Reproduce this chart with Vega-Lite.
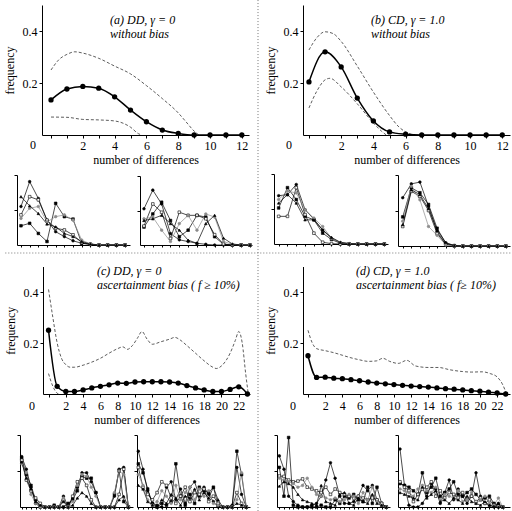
{
"$schema":"https://vega.github.io/schema/vega-lite/v6.json",
"width":512,"height":511,"autosize":{"type":"none"},"padding":0,"background":"white",
"config":{"font":"Liberation Serif","view":{"stroke":null},
"axis":{"grid":false,"domainColor":"#000","tickColor":"#000","labelColor":"#000","titleColor":"#000","labelFontSize":12,"titleFontSize":12,"titleFontWeight":"normal","tickSize":3,"labelPadding":2,"labelOverlap":false,"labelFlush":false,"minExtent":0,"domainWidth":1,"tickWidth":1},
"text":{"fontSize":12,"color":"#000"}},
"datasets":{
"a":[{"s":"m","x":0,"y":0.135},{"s":"m","x":1,"y":0.177},{"s":"m","x":2,"y":0.187},{"s":"m","x":3,"y":0.18},{"s":"m","x":4,"y":0.147},{"s":"m","x":5,"y":0.096},{"s":"m","x":6,"y":0.051},{"s":"m","x":7,"y":0.019},{"s":"m","x":8,"y":0.006},{"s":"m","x":9,"y":0},{"s":"m","x":10,"y":0},{"s":"m","x":11,"y":0},{"s":"m","x":12,"y":0},
{"s":"u","x":0,"y":0.25},{"s":"u","x":0.5,"y":0.29},{"s":"u","x":1,"y":0.31},{"s":"u","x":1.5,"y":0.32},{"s":"u","x":2,"y":0.315},{"s":"u","x":3,"y":0.295},{"s":"u","x":4,"y":0.265},{"s":"u","x":5,"y":0.235},{"s":"u","x":6,"y":0.19},{"s":"u","x":7,"y":0.14},{"s":"u","x":8,"y":0.085},{"s":"u","x":8.5,"y":0.05},{"s":"u","x":9,"y":0.015},{"s":"u","x":9.3,"y":0},
{"s":"l","x":0,"y":0.069},{"s":"l","x":1,"y":0.068},{"s":"l","x":2,"y":0.06},{"s":"l","x":3,"y":0.058},{"s":"l","x":4,"y":0.054},{"s":"l","x":5,"y":0.03},{"s":"l","x":5.5,"y":0.005},{"s":"l","x":5.7,"y":0}],
"b":[{"s":"m","x":0,"y":0.204},{"s":"m","x":1,"y":0.32},{"s":"m","x":2,"y":0.262},{"s":"m","x":3,"y":0.142},{"s":"m","x":4,"y":0.054},{"s":"m","x":5,"y":0.012},{"s":"m","x":6,"y":0.003},{"s":"m","x":7,"y":0},{"s":"m","x":8,"y":0},{"s":"m","x":9,"y":0},{"s":"m","x":10,"y":0},{"s":"m","x":11,"y":0},{"s":"m","x":12,"y":0},
{"s":"u","x":0,"y":0.327},{"s":"u","x":0.5,"y":0.375},{"s":"u","x":1,"y":0.397},{"s":"u","x":1.5,"y":0.39},{"s":"u","x":2,"y":0.36},{"s":"u","x":3,"y":0.265},{"s":"u","x":4,"y":0.165},{"s":"u","x":5,"y":0.075},{"s":"u","x":5.6,"y":0.03},{"s":"u","x":6,"y":0.012},{"s":"u","x":6.5,"y":0},
{"s":"l","x":0,"y":0.104},{"s":"l","x":0.5,"y":0.17},{"s":"l","x":1,"y":0.212},{"s":"l","x":1.3,"y":0.218},{"s":"l","x":2,"y":0.185},{"s":"l","x":3,"y":0.12},{"s":"l","x":4,"y":0.046},{"s":"l","x":4.5,"y":0.015},{"s":"l","x":4.8,"y":0}],
"c":[{"s":"m","x":0,"y":0.25},{"s":"m","x":1,"y":0.03},{"s":"m","x":2,"y":0.01},{"s":"m","x":3,"y":0.01},{"s":"m","x":4,"y":0.016},{"s":"m","x":5,"y":0.024},{"s":"m","x":6,"y":0.03},{"s":"m","x":7,"y":0.036},{"s":"m","x":8,"y":0.043},{"s":"m","x":9,"y":0.042},{"s":"m","x":10,"y":0.047},{"s":"m","x":11,"y":0.048},{"s":"m","x":12,"y":0.048},{"s":"m","x":13,"y":0.048},{"s":"m","x":14,"y":0.047},{"s":"m","x":15,"y":0.043},{"s":"m","x":16,"y":0.033},{"s":"m","x":17,"y":0.024},{"s":"m","x":18,"y":0.016},{"s":"m","x":19,"y":0.01},{"s":"m","x":20,"y":0.01},{"s":"m","x":21,"y":0.018},{"s":"m","x":22,"y":0.028},{"s":"m","x":23,"y":0},
{"s":"u","x":0,"y":0.41},{"s":"u","x":0.5,"y":0.3},{"s":"u","x":1,"y":0.2},{"s":"u","x":1.5,"y":0.14},{"s":"u","x":2,"y":0.115},{"s":"u","x":2.5,"y":0.105},{"s":"u","x":3,"y":0.105},{"s":"u","x":4,"y":0.113},{"s":"u","x":5,"y":0.125},{"s":"u","x":6,"y":0.14},{"s":"u","x":7,"y":0.16},{"s":"u","x":8,"y":0.178},{"s":"u","x":8.6,"y":0.185},{"s":"u","x":9.1,"y":0.175},{"s":"u","x":9.7,"y":0.19},{"s":"u","x":10.3,"y":0.22},{"s":"u","x":10.8,"y":0.245},{"s":"u","x":11.4,"y":0.215},{"s":"u","x":12,"y":0.195},{"s":"u","x":13,"y":0.205},{"s":"u","x":14,"y":0.215},{"s":"u","x":14.6,"y":0.222},{"s":"u","x":15.3,"y":0.21},{"s":"u","x":16,"y":0.19},{"s":"u","x":17,"y":0.16},{"s":"u","x":18,"y":0.13},{"s":"u","x":19,"y":0.105},{"s":"u","x":19.4,"y":0.1},{"s":"u","x":20,"y":0.11},{"s":"u","x":21,"y":0.16},{"s":"u","x":21.6,"y":0.21},{"s":"u","x":22,"y":0.245},{"s":"u","x":22.4,"y":0.2},{"s":"u","x":22.8,"y":0.08},{"s":"u","x":23.1,"y":0},
{"s":"l","x":0,"y":0.08},{"s":"l","x":0.5,"y":0.03},{"s":"l","x":1,"y":0.003},{"s":"l","x":1.2,"y":0}],
"d":[{"s":"m","x":0,"y":0.15},{"s":"m","x":1,"y":0.065},{"s":"m","x":2,"y":0.066},{"s":"m","x":3,"y":0.062},{"s":"m","x":4,"y":0.06},{"s":"m","x":5,"y":0.056},{"s":"m","x":6,"y":0.052},{"s":"m","x":7,"y":0.047},{"s":"m","x":8,"y":0.043},{"s":"m","x":9,"y":0.04},{"s":"m","x":10,"y":0.037},{"s":"m","x":11,"y":0.034},{"s":"m","x":12,"y":0.031},{"s":"m","x":13,"y":0.029},{"s":"m","x":14,"y":0.027},{"s":"m","x":15,"y":0.024},{"s":"m","x":16,"y":0.021},{"s":"m","x":17,"y":0.019},{"s":"m","x":18,"y":0.016},{"s":"m","x":19,"y":0.013},{"s":"m","x":20,"y":0.011},{"s":"m","x":21,"y":0.007},{"s":"m","x":22,"y":0.004},{"s":"m","x":23,"y":0},
{"s":"u","x":0,"y":0.25},{"s":"u","x":0.5,"y":0.2},{"s":"u","x":1,"y":0.178},{"s":"u","x":2,"y":0.17},{"s":"u","x":3,"y":0.162},{"s":"u","x":4,"y":0.152},{"s":"u","x":5,"y":0.142},{"s":"u","x":6,"y":0.134},{"s":"u","x":7,"y":0.128},{"s":"u","x":8,"y":0.13},{"s":"u","x":8.7,"y":0.14},{"s":"u","x":9.5,"y":0.128},{"s":"u","x":10.5,"y":0.12},{"s":"u","x":11.5,"y":0.132},{"s":"u","x":12.5,"y":0.11},{"s":"u","x":14,"y":0.104},{"s":"u","x":15.2,"y":0.104},{"s":"u","x":16.5,"y":0.095},{"s":"u","x":18,"y":0.088},{"s":"u","x":19,"y":0.086},{"s":"u","x":20.3,"y":0.087},{"s":"u","x":21.2,"y":0.08},{"s":"u","x":22,"y":0.067},{"s":"u","x":22.6,"y":0.04},{"s":"u","x":23.1,"y":0}],
"a1":[{"s":1,"x":0,"y":1.1},{"s":1,"x":1,"y":1.81},{"s":1,"x":2,"y":1.33},{"s":1,"x":3,"y":0.71},{"s":1,"x":4,"y":0.38},{"s":1,"x":5,"y":0.24},{"s":1,"x":6,"y":0.12},{"s":1,"x":7,"y":0.05},{"s":1,"x":8,"y":0.02},{"s":1,"x":9,"y":0},{"s":1,"x":10,"y":0},{"s":1,"x":11,"y":0},{"s":1,"x":12,"y":0},
{"s":2,"x":0,"y":0.55},{"s":2,"x":1,"y":0.62},{"s":2,"x":2,"y":0.33},{"s":2,"x":3,"y":0.1},{"s":2,"x":4,"y":1.19},{"s":2,"x":5,"y":0.81},{"s":2,"x":6,"y":0.74},{"s":2,"x":7,"y":0.05},{"s":2,"x":8,"y":0.02},{"s":2,"x":9,"y":0},{"s":2,"x":10,"y":0},{"s":2,"x":11,"y":0},{"s":2,"x":12,"y":0},
{"s":3,"x":0,"y":0.86},{"s":3,"x":1,"y":1.38},{"s":3,"x":2,"y":1.29},{"s":3,"x":3,"y":0.71},{"s":3,"x":4,"y":0.48},{"s":3,"x":5,"y":0.43},{"s":3,"x":6,"y":0.29},{"s":3,"x":7,"y":0.07},{"s":3,"x":8,"y":0.02},{"s":3,"x":9,"y":0},{"s":3,"x":10,"y":0},{"s":3,"x":11,"y":0},{"s":3,"x":12,"y":0},
{"s":4,"x":0,"y":0.76},{"s":4,"x":1,"y":1.05},{"s":4,"x":2,"y":1.1},{"s":4,"x":3,"y":0.66},{"s":4,"x":4,"y":0.81},{"s":4,"x":5,"y":0.86},{"s":4,"x":6,"y":0.71},{"s":4,"x":7,"y":0.14},{"s":4,"x":8,"y":0.03},{"s":4,"x":9,"y":0},{"s":4,"x":10,"y":0},{"s":4,"x":11,"y":0},{"s":4,"x":12,"y":0},
{"s":5,"x":0,"y":1.38},{"s":5,"x":1,"y":1.12},{"s":5,"x":2,"y":0.9},{"s":5,"x":3,"y":0.6},{"s":5,"x":4,"y":0.52},{"s":5,"x":5,"y":0.33},{"s":5,"x":6,"y":0.24},{"s":5,"x":7,"y":0.1},{"s":5,"x":8,"y":0.03},{"s":5,"x":9,"y":0},{"s":5,"x":10,"y":0},{"s":5,"x":11,"y":0},{"s":5,"x":12,"y":0}],
"a2":[{"s":1,"x":0,"y":1.05},{"s":1,"x":1,"y":1.59},{"s":1,"x":2,"y":1.19},{"s":1,"x":3,"y":0.33},{"s":1,"x":4,"y":0.15},{"s":1,"x":5,"y":0.1},{"s":1,"x":6,"y":0.05},{"s":1,"x":7,"y":0.02},{"s":1,"x":8,"y":0},{"s":1,"x":9,"y":0},{"s":1,"x":10,"y":0},{"s":1,"x":11,"y":0},{"s":1,"x":12,"y":0},
{"s":2,"x":0,"y":0.52},{"s":2,"x":1,"y":0.9},{"s":2,"x":2,"y":1.24},{"s":2,"x":3,"y":0.71},{"s":2,"x":4,"y":0.24},{"s":2,"x":5,"y":0.43},{"s":2,"x":6,"y":0.86},{"s":2,"x":7,"y":0.81},{"s":2,"x":8,"y":0.24},{"s":2,"x":9,"y":0.02},{"s":2,"x":10,"y":0},{"s":2,"x":11,"y":0},{"s":2,"x":12,"y":0},
{"s":3,"x":0,"y":0.55},{"s":3,"x":1,"y":1.19},{"s":3,"x":2,"y":0.95},{"s":3,"x":3,"y":0.19},{"s":3,"x":4,"y":0.95},{"s":3,"x":5,"y":0.86},{"s":3,"x":6,"y":0.86},{"s":3,"x":7,"y":0.76},{"s":3,"x":8,"y":0.3},{"s":3,"x":9,"y":0.03},{"s":3,"x":10,"y":0},{"s":3,"x":11,"y":0},{"s":3,"x":12,"y":0},
{"s":4,"x":0,"y":0.76},{"s":4,"x":1,"y":0.81},{"s":4,"x":2,"y":0.43},{"s":4,"x":3,"y":0.1},{"s":4,"x":4,"y":0.62},{"s":4,"x":5,"y":0.86},{"s":4,"x":6,"y":0.43},{"s":4,"x":7,"y":0.9},{"s":4,"x":8,"y":0.81},{"s":4,"x":9,"y":0.1},{"s":4,"x":10,"y":0.02},{"s":4,"x":11,"y":0},{"s":4,"x":12,"y":0},
{"s":5,"x":0,"y":0.71},{"s":5,"x":1,"y":0.76},{"s":5,"x":2,"y":0.86},{"s":5,"x":3,"y":0.62},{"s":5,"x":4,"y":0.43},{"s":5,"x":5,"y":0.14},{"s":5,"x":6,"y":0.05},{"s":5,"x":7,"y":0.62},{"s":5,"x":8,"y":0.86},{"s":5,"x":9,"y":0.2},{"s":5,"x":10,"y":0.03},{"s":5,"x":11,"y":0},{"s":5,"x":12,"y":0}],
"b1":[{"s":1,"x":0,"y":1.38},{"s":1,"x":1,"y":1.41},{"s":1,"x":2,"y":1.7},{"s":1,"x":3,"y":0.98},{"s":1,"x":4,"y":0.71},{"s":1,"x":5,"y":0.4},{"s":1,"x":6,"y":0.16},{"s":1,"x":7,"y":0.04},{"s":1,"x":8,"y":0.01},{"s":1,"x":9,"y":0},{"s":1,"x":10,"y":0},{"s":1,"x":11,"y":0},{"s":1,"x":12,"y":0},
{"s":2,"x":0,"y":1.03},{"s":2,"x":1,"y":1.61},{"s":2,"x":2,"y":1.27},{"s":2,"x":3,"y":0.79},{"s":2,"x":4,"y":0.69},{"s":2,"x":5,"y":0.31},{"s":2,"x":6,"y":0.13},{"s":2,"x":7,"y":0.02},{"s":2,"x":8,"y":0},{"s":2,"x":9,"y":0},{"s":2,"x":10,"y":0},{"s":2,"x":11,"y":0},{"s":2,"x":12,"y":0},
{"s":3,"x":0,"y":0.79},{"s":3,"x":1,"y":0.79},{"s":3,"x":2,"y":1.61},{"s":3,"x":3,"y":0.84},{"s":3,"x":4,"y":0.31},{"s":3,"x":5,"y":0.05},{"s":3,"x":6,"y":0.01},{"s":3,"x":7,"y":0},{"s":3,"x":8,"y":0},{"s":3,"x":9,"y":0},{"s":3,"x":10,"y":0},{"s":3,"x":11,"y":0},{"s":3,"x":12,"y":0},
{"s":4,"x":0,"y":1.27},{"s":4,"x":1,"y":1.51},{"s":4,"x":2,"y":1.46},{"s":4,"x":3,"y":0.98},{"s":4,"x":4,"y":0.74},{"s":4,"x":5,"y":0.5},{"s":4,"x":6,"y":0.16},{"s":4,"x":7,"y":0.04},{"s":4,"x":8,"y":0.01},{"s":4,"x":9,"y":0},{"s":4,"x":10,"y":0},{"s":4,"x":11,"y":0},{"s":4,"x":12,"y":0},
{"s":5,"x":0,"y":1.17},{"s":5,"x":1,"y":1.41},{"s":5,"x":2,"y":1.17},{"s":5,"x":3,"y":0.69},{"s":5,"x":4,"y":0.69},{"s":5,"x":5,"y":0.4},{"s":5,"x":6,"y":0.19},{"s":5,"x":7,"y":0.05},{"s":5,"x":8,"y":0.01},{"s":5,"x":9,"y":0},{"s":5,"x":10,"y":0},{"s":5,"x":11,"y":0},{"s":5,"x":12,"y":0}],
"b2":[{"s":1,"x":0,"y":1.36},{"s":1,"x":1,"y":1.75},{"s":1,"x":2,"y":1.8},{"s":1,"x":3,"y":1.12},{"s":1,"x":4,"y":0.4},{"s":1,"x":5,"y":0.05},{"s":1,"x":6,"y":0.01},{"s":1,"x":7,"y":0},{"s":1,"x":8,"y":0},{"s":1,"x":9,"y":0},{"s":1,"x":10,"y":0},{"s":1,"x":11,"y":0},{"s":1,"x":12,"y":0},
{"s":2,"x":0,"y":0.82},{"s":2,"x":1,"y":1.64},{"s":2,"x":2,"y":1.5},{"s":2,"x":3,"y":1.17},{"s":2,"x":4,"y":0.5},{"s":2,"x":5,"y":0.08},{"s":2,"x":6,"y":0.01},{"s":2,"x":7,"y":0},{"s":2,"x":8,"y":0},{"s":2,"x":9,"y":0},{"s":2,"x":10,"y":0},{"s":2,"x":11,"y":0},{"s":2,"x":12,"y":0},
{"s":3,"x":0,"y":0.55},{"s":3,"x":1,"y":1.54},{"s":3,"x":2,"y":1.4},{"s":3,"x":3,"y":1.0},{"s":3,"x":4,"y":0.35},{"s":3,"x":5,"y":0.05},{"s":3,"x":6,"y":0},{"s":3,"x":7,"y":0},{"s":3,"x":8,"y":0},{"s":3,"x":9,"y":0},{"s":3,"x":10,"y":0},{"s":3,"x":11,"y":0},{"s":3,"x":12,"y":0},
{"s":4,"x":0,"y":0.7},{"s":4,"x":1,"y":1.68},{"s":4,"x":2,"y":1.3},{"s":4,"x":3,"y":0.55},{"s":4,"x":4,"y":0.3},{"s":4,"x":5,"y":0.03},{"s":4,"x":6,"y":0},{"s":4,"x":7,"y":0},{"s":4,"x":8,"y":0},{"s":4,"x":9,"y":0},{"s":4,"x":10,"y":0},{"s":4,"x":11,"y":0},{"s":4,"x":12,"y":0},
{"s":5,"x":0,"y":0.6},{"s":5,"x":1,"y":1.58},{"s":5,"x":2,"y":1.45},{"s":5,"x":3,"y":1.05},{"s":5,"x":4,"y":0.45},{"s":5,"x":5,"y":0.1},{"s":5,"x":6,"y":0.01},{"s":5,"x":7,"y":0},{"s":5,"x":8,"y":0},{"s":5,"x":9,"y":0},{"s":5,"x":10,"y":0},{"s":5,"x":11,"y":0},{"s":5,"x":12,"y":0}],
"c1":[{"s":1,"x":0,"y":1.4},{"s":1,"x":1,"y":1.05},{"s":1,"x":2,"y":0.55},{"s":1,"x":3,"y":0.1},{"s":1,"x":4,"y":0},{"s":1,"x":5,"y":0},{"s":1,"x":6,"y":0},{"s":1,"x":7,"y":0},{"s":1,"x":8,"y":0},{"s":1,"x":9,"y":0.3},{"s":1,"x":10,"y":0},{"s":1,"x":11,"y":0.25},{"s":1,"x":12,"y":0.55},{"s":1,"x":13,"y":0.95},{"s":1,"x":14,"y":0.95},{"s":1,"x":15,"y":0.7},{"s":1,"x":16,"y":0.4},{"s":1,"x":17,"y":0},{"s":1,"x":18,"y":0},{"s":1,"x":19,"y":0},{"s":1,"x":20,"y":0.3},{"s":1,"x":21,"y":1.05},{"s":1,"x":22,"y":1.1},{"s":1,"x":23,"y":0},
{"s":2,"x":0,"y":1.35},{"s":2,"x":1,"y":0.9},{"s":2,"x":2,"y":0.6},{"s":2,"x":3,"y":0.2},{"s":2,"x":4,"y":0},{"s":2,"x":5,"y":0},{"s":2,"x":6,"y":0},{"s":2,"x":7,"y":0.05},{"s":2,"x":8,"y":0},{"s":2,"x":9,"y":0},{"s":2,"x":10,"y":0.1},{"s":2,"x":11,"y":0.2},{"s":2,"x":12,"y":0.45},{"s":2,"x":13,"y":0.85},{"s":2,"x":14,"y":0.8},{"s":2,"x":15,"y":0.8},{"s":2,"x":16,"y":0.4},{"s":2,"x":17,"y":0},{"s":2,"x":18,"y":0},{"s":2,"x":19,"y":0},{"s":2,"x":20,"y":0.35},{"s":2,"x":21,"y":1.0},{"s":2,"x":22,"y":0.15},{"s":2,"x":23,"y":0},
{"s":3,"x":0,"y":1.3},{"s":3,"x":1,"y":0.75},{"s":3,"x":2,"y":0.45},{"s":3,"x":3,"y":0.25},{"s":3,"x":4,"y":0.1},{"s":3,"x":5,"y":0},{"s":3,"x":6,"y":0},{"s":3,"x":7,"y":0},{"s":3,"x":8,"y":0},{"s":3,"x":9,"y":0.2},{"s":3,"x":10,"y":0},{"s":3,"x":11,"y":0.3},{"s":3,"x":12,"y":0.7},{"s":3,"x":13,"y":0.8},{"s":3,"x":14,"y":0.6},{"s":3,"x":15,"y":0.2},{"s":3,"x":16,"y":0},{"s":3,"x":17,"y":0},{"s":3,"x":18,"y":0},{"s":3,"x":19,"y":0},{"s":3,"x":20,"y":0},{"s":3,"x":21,"y":0.35},{"s":3,"x":22,"y":1.05},{"s":3,"x":23,"y":0},
{"s":4,"x":0,"y":1.2},{"s":4,"x":1,"y":0.95},{"s":4,"x":2,"y":0.35},{"s":4,"x":3,"y":0.1},{"s":4,"x":4,"y":0},{"s":4,"x":5,"y":0},{"s":4,"x":6,"y":0},{"s":4,"x":7,"y":0},{"s":4,"x":8,"y":0},{"s":4,"x":9,"y":0.25},{"s":4,"x":10,"y":0},{"s":4,"x":11,"y":0.15},{"s":4,"x":12,"y":0.6},{"s":4,"x":13,"y":0.9},{"s":4,"x":14,"y":0.85},{"s":4,"x":15,"y":0.55},{"s":4,"x":16,"y":0.3},{"s":4,"x":17,"y":0},{"s":4,"x":18,"y":0},{"s":4,"x":19,"y":0},{"s":4,"x":20,"y":0.4},{"s":4,"x":21,"y":1.0},{"s":4,"x":22,"y":0.9},{"s":4,"x":23,"y":0},
{"s":5,"x":0,"y":1.25},{"s":5,"x":1,"y":0.8},{"s":5,"x":2,"y":0.5},{"s":5,"x":3,"y":0.15},{"s":5,"x":4,"y":0.05},{"s":5,"x":5,"y":0},{"s":5,"x":6,"y":0},{"s":5,"x":7,"y":0},{"s":5,"x":8,"y":0},{"s":5,"x":9,"y":0.15},{"s":5,"x":10,"y":0},{"s":5,"x":11,"y":0.05},{"s":5,"x":12,"y":0.25},{"s":5,"x":13,"y":0.4},{"s":5,"x":14,"y":0.3},{"s":5,"x":15,"y":0.1},{"s":5,"x":16,"y":0},{"s":5,"x":17,"y":0},{"s":5,"x":18,"y":0},{"s":5,"x":19,"y":0},{"s":5,"x":20,"y":0},{"s":5,"x":21,"y":0.2},{"s":5,"x":22,"y":0.3},{"s":5,"x":23,"y":0}],
"c2":[{"s":1,"x":0,"y":1.55},{"s":1,"x":1,"y":1.05},{"s":1,"x":2,"y":0.45},{"s":1,"x":3,"y":0.1},{"s":1,"x":4,"y":0.05},{"s":1,"x":5,"y":0},{"s":1,"x":6,"y":0.55},{"s":1,"x":7,"y":0.7},{"s":1,"x":8,"y":0.2},{"s":1,"x":9,"y":0.5},{"s":1,"x":10,"y":0.1},{"s":1,"x":11,"y":0.55},{"s":1,"x":12,"y":0.7},{"s":1,"x":13,"y":0.3},{"s":1,"x":14,"y":0.55},{"s":1,"x":15,"y":0.35},{"s":1,"x":16,"y":0.15},{"s":1,"x":17,"y":0},{"s":1,"x":18,"y":0},{"s":1,"x":19,"y":0},{"s":1,"x":20,"y":0.05},{"s":1,"x":21,"y":1.1},{"s":1,"x":22,"y":0.35},{"s":1,"x":23,"y":0},
{"s":2,"x":0,"y":1.2},{"s":2,"x":1,"y":0.95},{"s":2,"x":2,"y":0.5},{"s":2,"x":3,"y":0.1},{"s":2,"x":4,"y":0},{"s":2,"x":5,"y":0.1},{"s":2,"x":6,"y":0.05},{"s":2,"x":7,"y":0.15},{"s":2,"x":8,"y":1.2},{"s":2,"x":9,"y":0.3},{"s":2,"x":10,"y":0.05},{"s":2,"x":11,"y":0.35},{"s":2,"x":12,"y":0.1},{"s":2,"x":13,"y":0.55},{"s":2,"x":14,"y":0.45},{"s":2,"x":15,"y":0.4},{"s":2,"x":16,"y":0.55},{"s":2,"x":17,"y":0.05},{"s":2,"x":18,"y":0},{"s":2,"x":19,"y":0},{"s":2,"x":20,"y":0},{"s":2,"x":21,"y":1.55},{"s":2,"x":22,"y":0.9},{"s":2,"x":23,"y":0},
{"s":3,"x":0,"y":1.1},{"s":3,"x":1,"y":0.55},{"s":3,"x":2,"y":0.35},{"s":3,"x":3,"y":0.2},{"s":3,"x":4,"y":0.4},{"s":3,"x":5,"y":0.7},{"s":3,"x":6,"y":0.6},{"s":3,"x":7,"y":0.25},{"s":3,"x":8,"y":0.1},{"s":3,"x":9,"y":0.3},{"s":3,"x":10,"y":0.55},{"s":3,"x":11,"y":0.15},{"s":3,"x":12,"y":0.4},{"s":3,"x":13,"y":0.35},{"s":3,"x":14,"y":0.5},{"s":3,"x":15,"y":0.15},{"s":3,"x":16,"y":0.3},{"s":3,"x":17,"y":0.1},{"s":3,"x":18,"y":0},{"s":3,"x":19,"y":0},{"s":3,"x":20,"y":0},{"s":3,"x":21,"y":0.4},{"s":3,"x":22,"y":0.1},{"s":3,"x":23,"y":0},
{"s":4,"x":0,"y":0.9},{"s":4,"x":1,"y":0.6},{"s":4,"x":2,"y":0.2},{"s":4,"x":3,"y":0.05},{"s":4,"x":4,"y":0.15},{"s":4,"x":5,"y":0.45},{"s":4,"x":6,"y":0.3},{"s":4,"x":7,"y":0.1},{"s":4,"x":8,"y":0.6},{"s":4,"x":9,"y":0.2},{"s":4,"x":10,"y":0.4},{"s":4,"x":11,"y":0.55},{"s":4,"x":12,"y":0.2},{"s":4,"x":13,"y":0.5},{"s":4,"x":14,"y":0.3},{"s":4,"x":15,"y":0.45},{"s":4,"x":16,"y":0.1},{"s":4,"x":17,"y":0.05},{"s":4,"x":18,"y":0},{"s":4,"x":19,"y":0},{"s":4,"x":20,"y":0},{"s":4,"x":21,"y":0.2},{"s":4,"x":22,"y":0.95},{"s":4,"x":23,"y":0},
{"s":5,"x":0,"y":0.6},{"s":5,"x":1,"y":0.5},{"s":5,"x":2,"y":0.15},{"s":5,"x":3,"y":0.05},{"s":5,"x":4,"y":0},{"s":5,"x":5,"y":0.2},{"s":5,"x":6,"y":0.1},{"s":5,"x":7,"y":0.35},{"s":5,"x":8,"y":0.25},{"s":5,"x":9,"y":0.05},{"s":5,"x":10,"y":0.3},{"s":5,"x":11,"y":0.25},{"s":5,"x":12,"y":0.5},{"s":5,"x":13,"y":0.2},{"s":5,"x":14,"y":0.4},{"s":5,"x":15,"y":0.25},{"s":5,"x":16,"y":0.55},{"s":5,"x":17,"y":0.2},{"s":5,"x":18,"y":0},{"s":5,"x":19,"y":0},{"s":5,"x":20,"y":0},{"s":5,"x":21,"y":0.1},{"s":5,"x":22,"y":0.05},{"s":5,"x":23,"y":0}],
"d1":[{"s":1,"x":0,"y":1.42},{"s":1,"x":1,"y":1.05},{"s":1,"x":2,"y":0.3},{"s":1,"x":3,"y":0.15},{"s":1,"x":4,"y":0.05},{"s":1,"x":5,"y":0},{"s":1,"x":6,"y":0},{"s":1,"x":7,"y":0.05},{"s":1,"x":8,"y":0.1},{"s":1,"x":9,"y":0.3},{"s":1,"x":10,"y":0.75},{"s":1,"x":11,"y":1.23},{"s":1,"x":12,"y":0.8},{"s":1,"x":13,"y":0.3},{"s":1,"x":14,"y":0.1},{"s":1,"x":15,"y":0.1},{"s":1,"x":16,"y":0.15},{"s":1,"x":17,"y":0.3},{"s":1,"x":18,"y":0.6},{"s":1,"x":19,"y":0.45},{"s":1,"x":20,"y":0.6},{"s":1,"x":21,"y":0.2},{"s":1,"x":22,"y":0.05},{"s":1,"x":23,"y":0},
{"s":2,"x":0,"y":1.1},{"s":2,"x":1,"y":0.3},{"s":2,"x":2,"y":1.93},{"s":2,"x":3,"y":0.05},{"s":2,"x":4,"y":0},{"s":2,"x":5,"y":0},{"s":2,"x":6,"y":0},{"s":2,"x":7,"y":0},{"s":2,"x":8,"y":0},{"s":2,"x":9,"y":0.05},{"s":2,"x":10,"y":0},{"s":2,"x":11,"y":0},{"s":2,"x":12,"y":0.2},{"s":2,"x":13,"y":0.1},{"s":2,"x":14,"y":0.3},{"s":2,"x":15,"y":0.25},{"s":2,"x":16,"y":0.35},{"s":2,"x":17,"y":0.2},{"s":2,"x":18,"y":0.15},{"s":2,"x":19,"y":0.55},{"s":2,"x":20,"y":0.1},{"s":2,"x":21,"y":0.55},{"s":2,"x":22,"y":0.1},{"s":2,"x":23,"y":0},
{"s":3,"x":0,"y":0.86},{"s":3,"x":1,"y":0.85},{"s":3,"x":2,"y":0.75},{"s":3,"x":3,"y":0.7},{"s":3,"x":4,"y":0.72},{"s":3,"x":5,"y":0.78},{"s":3,"x":6,"y":0.55},{"s":3,"x":7,"y":0.5},{"s":3,"x":8,"y":0.45},{"s":3,"x":9,"y":0.4},{"s":3,"x":10,"y":0.55},{"s":3,"x":11,"y":0.35},{"s":3,"x":12,"y":0.5},{"s":3,"x":13,"y":0.4},{"s":3,"x":14,"y":0.35},{"s":3,"x":15,"y":0.3},{"s":3,"x":16,"y":0.25},{"s":3,"x":17,"y":0.3},{"s":3,"x":18,"y":0.25},{"s":3,"x":19,"y":0.2},{"s":3,"x":20,"y":0.25},{"s":3,"x":21,"y":0.2},{"s":3,"x":22,"y":0.1},{"s":3,"x":23,"y":0},
{"s":4,"x":0,"y":0.8},{"s":4,"x":1,"y":0.75},{"s":4,"x":2,"y":0.7},{"s":4,"x":3,"y":0.65},{"s":4,"x":4,"y":0.55},{"s":4,"x":5,"y":0.6},{"s":4,"x":6,"y":0.8},{"s":4,"x":7,"y":0.55},{"s":4,"x":8,"y":0.35},{"s":4,"x":9,"y":0.3},{"s":4,"x":10,"y":0.25},{"s":4,"x":11,"y":0.2},{"s":4,"x":12,"y":0.25},{"s":4,"x":13,"y":0.15},{"s":4,"x":14,"y":0.2},{"s":4,"x":15,"y":0.35},{"s":4,"x":16,"y":0.3},{"s":4,"x":17,"y":0.1},{"s":4,"x":18,"y":0.4},{"s":4,"x":19,"y":0.2},{"s":4,"x":20,"y":0.55},{"s":4,"x":21,"y":0.15},{"s":4,"x":22,"y":0.05},{"s":4,"x":23,"y":0},
{"s":5,"x":0,"y":0.58},{"s":5,"x":1,"y":0.7},{"s":5,"x":2,"y":0.65},{"s":5,"x":3,"y":0.55},{"s":5,"x":4,"y":0.35},{"s":5,"x":5,"y":0.2},{"s":5,"x":6,"y":0.15},{"s":5,"x":7,"y":0.1},{"s":5,"x":8,"y":0.05},{"s":5,"x":9,"y":0.6},{"s":5,"x":10,"y":0.15},{"s":5,"x":11,"y":0.1},{"s":5,"x":12,"y":0.05},{"s":5,"x":13,"y":0.35},{"s":5,"x":14,"y":0.4},{"s":5,"x":15,"y":0.1},{"s":5,"x":16,"y":0.05},{"s":5,"x":17,"y":0.25},{"s":5,"x":18,"y":0.15},{"s":5,"x":19,"y":0.1},{"s":5,"x":20,"y":0.35},{"s":5,"x":21,"y":0.1},{"s":5,"x":22,"y":0.05},{"s":5,"x":23,"y":0}],
"d2":[{"s":1,"x":0,"y":1.61},{"s":1,"x":1,"y":0.6},{"s":1,"x":2,"y":0.05},{"s":1,"x":3,"y":0},{"s":1,"x":4,"y":0},{"s":1,"x":5,"y":0.1},{"s":1,"x":6,"y":0.3},{"s":1,"x":7,"y":0.65},{"s":1,"x":8,"y":0.5},{"s":1,"x":9,"y":0.1},{"s":1,"x":10,"y":0.4},{"s":1,"x":11,"y":0.75},{"s":1,"x":12,"y":0.2},{"s":1,"x":13,"y":0.5},{"s":1,"x":14,"y":0.3},{"s":1,"x":15,"y":0.1},{"s":1,"x":16,"y":0.3},{"s":1,"x":17,"y":0.95},{"s":1,"x":18,"y":0.3},{"s":1,"x":19,"y":0.1},{"s":1,"x":20,"y":0.05},{"s":1,"x":21,"y":0},{"s":1,"x":22,"y":0.1},{"s":1,"x":23,"y":0},
{"s":2,"x":0,"y":0.65},{"s":2,"x":1,"y":0.6},{"s":2,"x":2,"y":0.55},{"s":2,"x":3,"y":0.45},{"s":2,"x":4,"y":0.35},{"s":2,"x":5,"y":0.95},{"s":2,"x":6,"y":0.4},{"s":2,"x":7,"y":0.55},{"s":2,"x":8,"y":0.8},{"s":2,"x":9,"y":0.3},{"s":2,"x":10,"y":0.4},{"s":2,"x":11,"y":0.5},{"s":2,"x":12,"y":0.7},{"s":2,"x":13,"y":0.35},{"s":2,"x":14,"y":0.3},{"s":2,"x":15,"y":0.4},{"s":2,"x":16,"y":0.5},{"s":2,"x":17,"y":0.35},{"s":2,"x":18,"y":0.2},{"s":2,"x":19,"y":0.25},{"s":2,"x":20,"y":0.3},{"s":2,"x":21,"y":0.1},{"s":2,"x":22,"y":0.05},{"s":2,"x":23,"y":0},
{"s":3,"x":0,"y":0.7},{"s":3,"x":1,"y":0.55},{"s":3,"x":2,"y":0.45},{"s":3,"x":3,"y":0.15},{"s":3,"x":4,"y":0.35},{"s":3,"x":5,"y":0.5},{"s":3,"x":6,"y":0.55},{"s":3,"x":7,"y":0.7},{"s":3,"x":8,"y":0.3},{"s":3,"x":9,"y":0.45},{"s":3,"x":10,"y":0.25},{"s":3,"x":11,"y":0.4},{"s":3,"x":12,"y":0.35},{"s":3,"x":13,"y":0.25},{"s":3,"x":14,"y":0.4},{"s":3,"x":15,"y":0.2},{"s":3,"x":16,"y":0.3},{"s":3,"x":17,"y":0.15},{"s":3,"x":18,"y":0.25},{"s":3,"x":19,"y":0.1},{"s":3,"x":20,"y":0.2},{"s":3,"x":21,"y":0.05},{"s":3,"x":22,"y":0.02},{"s":3,"x":23,"y":0},
{"s":4,"x":0,"y":0.5},{"s":4,"x":1,"y":0.45},{"s":4,"x":2,"y":0.4},{"s":4,"x":3,"y":0.3},{"s":4,"x":4,"y":0.5},{"s":4,"x":5,"y":0.6},{"s":4,"x":6,"y":0.45},{"s":4,"x":7,"y":0.4},{"s":4,"x":8,"y":0.55},{"s":4,"x":9,"y":0.2},{"s":4,"x":10,"y":0.35},{"s":4,"x":11,"y":0.3},{"s":4,"x":12,"y":0.25},{"s":4,"x":13,"y":0.45},{"s":4,"x":14,"y":0.15},{"s":4,"x":15,"y":0.2},{"s":4,"x":16,"y":0.4},{"s":4,"x":17,"y":0.1},{"s":4,"x":18,"y":0.2},{"s":4,"x":19,"y":0.3},{"s":4,"x":20,"y":0.1},{"s":4,"x":21,"y":0.05},{"s":4,"x":22,"y":0.25},{"s":4,"x":23,"y":0},
{"s":5,"x":0,"y":0.4},{"s":5,"x":1,"y":0.35},{"s":5,"x":2,"y":0.3},{"s":5,"x":3,"y":0.25},{"s":5,"x":4,"y":0.2},{"s":5,"x":5,"y":0.55},{"s":5,"x":6,"y":0.25},{"s":5,"x":7,"y":0.35},{"s":5,"x":8,"y":0.45},{"s":5,"x":9,"y":0.15},{"s":5,"x":10,"y":0.2},{"s":5,"x":11,"y":0.1},{"s":5,"x":12,"y":0.25},{"s":5,"x":13,"y":0.2},{"s":5,"x":14,"y":0.1},{"s":5,"x":15,"y":0.3},{"s":5,"x":16,"y":0.15},{"s":5,"x":17,"y":0.1},{"s":5,"x":18,"y":0.05},{"s":5,"x":19,"y":0.15},{"s":5,"x":20,"y":0.05},{"s":5,"x":21,"y":0.02},{"s":5,"x":22,"y":0},{"s":5,"x":23,"y":0}]
},
"resolve":{"scale":{"x":"independent","y":"independent"}},
"layer":[
{"layer":[
{"data":{"name":"a"},"transform":[{"filter":"datum.s == 'u'"}],"mark":{"type":"line","strokeDash":[3,2],"strokeWidth":0.8,"color":"#333","interpolate":"monotone"},
"encoding":{"x":{"field":"x","type":"quantitative","scale":{"domain":[-0.566,12.45],"range":[42,249],"nice":false,"zero":false},"axis":{"orient":"bottom","offset":-376,"values":[0,1,2,3,4,5,6,7,8,9,10,11,12],"labelExpr":"datum.value % 2 == 0 && datum.value > 0 ? datum.label : ''","title":"number of differences","titlePadding":3}},
"y":{"field":"y","type":"quantitative","scale":{"domain":[0,0.5],"range":[135,5],"nice":false,"zero":false},"axis":{"orient":"left","offset":-42,"values":[0.2,0.4],"format":".1f","title":"frequency","titleX":-33,"titleBaseline":"middle"}}}},
{"data":{"name":"a"},"transform":[{"filter":"datum.s == 'l'"}],"mark":{"type":"line","strokeDash":[3,2],"strokeWidth":0.8,"color":"#333","interpolate":"monotone"},"encoding":{"x":{"field":"x","type":"quantitative","scale":{"domain":[-0.566,12.45],"range":[42,249],"nice":false,"zero":false}},"y":{"field":"y","type":"quantitative","scale":{"domain":[0,0.5],"range":[135,5],"nice":false,"zero":false}}}},
{"data":{"name":"a"},"transform":[{"filter":"datum.s == 'm'"}],"mark":{"type":"line","strokeWidth":1.5,"color":"#000","interpolate":"monotone"},"encoding":{"x":{"field":"x","type":"quantitative","scale":{"domain":[-0.566,12.45],"range":[42,249],"nice":false,"zero":false}},"y":{"field":"y","type":"quantitative","scale":{"domain":[0,0.5],"range":[135,5],"nice":false,"zero":false}}}},
{"data":{"name":"a"},"transform":[{"filter":"datum.s == 'm'"}],"mark":{"type":"circle","size":28,"color":"#000","opacity":1},"encoding":{"x":{"field":"x","type":"quantitative","scale":{"domain":[-0.566,12.45],"range":[42,249],"nice":false,"zero":false}},"y":{"field":"y","type":"quantitative","scale":{"domain":[0,0.5],"range":[135,5],"nice":false,"zero":false}}}},
{"data":{"values":[{}]},"mark":{"type":"text","text":"(a) DD, γ = 0","align":"left","baseline":"middle","fontStyle":"italic"},"encoding":{"x":{"datum":3.71},"y":{"datum":0.4423}}},
{"data":{"values":[{}]},"mark":{"type":"text","text":"without bias","align":"left","baseline":"middle","fontStyle":"italic"},"encoding":{"x":{"datum":3.71},"y":{"datum":0.3885}}},
{"data":{"values":[{}]},"mark":{"type":"text","text":"0","align":"center","baseline":"middle","dx":-9,"dy":10},"encoding":{"x":{"datum":-0.566},"y":{"datum":0}}}
]},
{"layer":[
{"data":{"name":"b"},"transform":[{"filter":"datum.s == 'u'"}],"mark":{"type":"line","strokeDash":[3,2],"strokeWidth":0.8,"color":"#333","interpolate":"monotone"},
"encoding":{"x":{"field":"x","type":"quantitative","scale":{"domain":[-0.37,12.48],"range":[303,510],"nice":false,"zero":false},"axis":{"orient":"bottom","offset":-376,"values":[0,1,2,3,4,5,6,7,8,9,10,11,12],"labelExpr":"datum.value % 2 == 0 && datum.value > 0 ? datum.label : ''","title":"number of differences","titlePadding":3}},
"y":{"field":"y","type":"quantitative","scale":{"domain":[0,0.5],"range":[135,5],"nice":false,"zero":false},"axis":{"orient":"left","offset":-303,"values":[0.2,0.4],"format":".1f","title":"frequency","titleX":-33,"titleBaseline":"middle"}}}},
{"data":{"name":"b"},"transform":[{"filter":"datum.s == 'l'"}],"mark":{"type":"line","strokeDash":[3,2],"strokeWidth":0.8,"color":"#333","interpolate":"monotone"},"encoding":{"x":{"field":"x","type":"quantitative","scale":{"domain":[-0.37,12.48],"range":[303,510],"nice":false,"zero":false}},"y":{"field":"y","type":"quantitative","scale":{"domain":[0,0.5],"range":[135,5],"nice":false,"zero":false}}}},
{"data":{"name":"b"},"transform":[{"filter":"datum.s == 'm'"}],"mark":{"type":"line","strokeWidth":1.5,"color":"#000","interpolate":"monotone"},"encoding":{"x":{"field":"x","type":"quantitative","scale":{"domain":[-0.37,12.48],"range":[303,510],"nice":false,"zero":false}},"y":{"field":"y","type":"quantitative","scale":{"domain":[0,0.5],"range":[135,5],"nice":false,"zero":false}}}},
{"data":{"name":"b"},"transform":[{"filter":"datum.s == 'm'"}],"mark":{"type":"circle","size":28,"color":"#000","opacity":1},"encoding":{"x":{"field":"x","type":"quantitative","scale":{"domain":[-0.37,12.48],"range":[303,510],"nice":false,"zero":false}},"y":{"field":"y","type":"quantitative","scale":{"domain":[0,0.5],"range":[135,5],"nice":false,"zero":false}}}},
{"data":{"values":[{}]},"mark":{"type":"text","text":"(b) CD, γ = 1.0","align":"left","baseline":"middle","fontStyle":"italic"},"encoding":{"x":{"datum":3.85},"y":{"datum":0.4423}}},
{"data":{"values":[{}]},"mark":{"type":"text","text":"without bias","align":"left","baseline":"middle","fontStyle":"italic"},"encoding":{"x":{"datum":3.85},"y":{"datum":0.3885}}},
{"data":{"values":[{}]},"mark":{"type":"text","text":"0","align":"center","baseline":"middle","dx":-14,"dy":10},"encoding":{"x":{"datum":-0.37},"y":{"datum":0}}},
{"data":{"values":[{}]},"mark":{"type":"rule","strokeDash":[1,2],"color":"#777","strokeWidth":1},"encoding":{"x":{"datum":-3.163},"y":{"datum":0.519},"y2":{"datum":-1.446}}}
]},
{"layer":[
{"data":{"name":"c"},"transform":[{"filter":"datum.s == 'u'"}],"mark":{"type":"line","strokeDash":[3,2],"strokeWidth":0.8,"color":"#333","interpolate":"monotone"},
"encoding":{"x":{"field":"x","type":"quantitative","scale":{"domain":[-0.64,23.3],"range":[43,250],"nice":false,"zero":false},"axis":{"orient":"bottom","offset":-117,"values":[0,1,2,3,4,5,6,7,8,9,10,11,12,13,14,15,16,17,18,19,20,21,22,23],"labelExpr":"datum.value % 2 == 0 && datum.value > 0 ? datum.label : ''","title":"number of differences","titlePadding":3,"labelPadding":3}},
"y":{"field":"y","type":"quantitative","scale":{"domain":[0,0.5],"range":[394,266.5],"nice":false,"zero":false},"axis":{"orient":"left","offset":-43,"values":[0.2,0.4],"format":".1f","title":"frequency","titleX":-33,"titleBaseline":"middle"}}}},
{"data":{"name":"c"},"transform":[{"filter":"datum.s == 'l'"}],"mark":{"type":"line","strokeDash":[3,2],"strokeWidth":0.8,"color":"#333","interpolate":"monotone"},"encoding":{"x":{"field":"x","type":"quantitative","scale":{"domain":[-0.64,23.3],"range":[43,250],"nice":false,"zero":false}},"y":{"field":"y","type":"quantitative","scale":{"domain":[0,0.5],"range":[394,266.5],"nice":false,"zero":false}}}},
{"data":{"name":"c"},"transform":[{"filter":"datum.s == 'm'"}],"mark":{"type":"line","strokeWidth":1.5,"color":"#000","interpolate":"monotone"},"encoding":{"x":{"field":"x","type":"quantitative","scale":{"domain":[-0.64,23.3],"range":[43,250],"nice":false,"zero":false}},"y":{"field":"y","type":"quantitative","scale":{"domain":[0,0.5],"range":[394,266.5],"nice":false,"zero":false}}}},
{"data":{"name":"c"},"transform":[{"filter":"datum.s == 'm'"}],"mark":{"type":"circle","size":28,"color":"#000","opacity":1},"encoding":{"x":{"field":"x","type":"quantitative","scale":{"domain":[-0.64,23.3],"range":[43,250],"nice":false,"zero":false}},"y":{"field":"y","type":"quantitative","scale":{"domain":[0,0.5],"range":[394,266.5],"nice":false,"zero":false}}}},
{"data":{"values":[{}]},"mark":{"type":"text","text":"(c) DD, γ = 0","align":"left","baseline":"middle","fontStyle":"italic"},"encoding":{"x":{"datum":5.6},"y":{"datum":0.4804}}},
{"data":{"values":[{}]},"mark":{"type":"text","text":"ascertainment bias ( f ≥ 10%)","align":"left","baseline":"middle","fontStyle":"italic"},"encoding":{"x":{"datum":5.6},"y":{"datum":0.4255}}},
{"data":{"values":[{}]},"mark":{"type":"text","text":"0","align":"center","baseline":"middle","dx":-11,"dy":12},"encoding":{"x":{"datum":-0.64},"y":{"datum":0}}},
{"data":{"values":[{}]},"mark":{"type":"rule","strokeDash":[1,2],"color":"#777","strokeWidth":1},"encoding":{"x":{"datum":-5.0},"x2":{"datum":53.6},"y":{"datum":0.5529}}}
]},
{"layer":[
{"data":{"name":"d"},"transform":[{"filter":"datum.s == 'u'"}],"mark":{"type":"line","strokeDash":[3,2],"strokeWidth":0.8,"color":"#333","interpolate":"monotone"},
"encoding":{"x":{"field":"x","type":"quantitative","scale":{"domain":[-0.58,23.5],"range":[303,510],"nice":false,"zero":false},"axis":{"orient":"bottom","offset":-117,"values":[0,1,2,3,4,5,6,7,8,9,10,11,12,13,14,15,16,17,18,19,20,21,22,23],"labelExpr":"datum.value % 2 == 0 && datum.value > 0 ? datum.label : ''","title":"number of differences","titlePadding":3,"labelPadding":3}},
"y":{"field":"y","type":"quantitative","scale":{"domain":[0,0.5],"range":[394,266.5],"nice":false,"zero":false},"axis":{"orient":"left","offset":-303,"values":[0.2,0.4],"format":".1f","title":"frequency","titleX":-33,"titleBaseline":"middle"}}}},
{"data":{"name":"d"},"transform":[{"filter":"datum.s == 'm'"}],"mark":{"type":"line","strokeWidth":1.5,"color":"#000","interpolate":"monotone"},"encoding":{"x":{"field":"x","type":"quantitative","scale":{"domain":[-0.58,23.5],"range":[303,510],"nice":false,"zero":false}},"y":{"field":"y","type":"quantitative","scale":{"domain":[0,0.5],"range":[394,266.5],"nice":false,"zero":false}}}},
{"data":{"name":"d"},"transform":[{"filter":"datum.s == 'm'"}],"mark":{"type":"circle","size":28,"color":"#000","opacity":1},"encoding":{"x":{"field":"x","type":"quantitative","scale":{"domain":[-0.58,23.5],"range":[303,510],"nice":false,"zero":false}},"y":{"field":"y","type":"quantitative","scale":{"domain":[0,0.5],"range":[394,266.5],"nice":false,"zero":false}}}},
{"data":{"values":[{}]},"mark":{"type":"text","text":"(d) CD, γ = 1.0","align":"left","baseline":"middle","fontStyle":"italic"},"encoding":{"x":{"datum":5.59},"y":{"datum":0.4804}}},
{"data":{"values":[{}]},"mark":{"type":"text","text":"ascertainment bias ( f≥ 10%)","align":"left","baseline":"middle","fontStyle":"italic"},"encoding":{"x":{"datum":5.59},"y":{"datum":0.4255}}},
{"data":{"values":[{}]},"mark":{"type":"text","text":"0","align":"center","baseline":"middle","dx":-10,"dy":12},"encoding":{"x":{"datum":-0.58},"y":{"datum":0}}}
]},
{"data":{"name":"a1"},"encoding":{
"x":{"field":"x","type":"quantitative","scale":{"domain":[-0.46,12.57],"range":[17,130],"nice":false,"zero":false},"axis":{"orient":"bottom","offset":-266,"values":[0,1,2,3,4,5,6,7,8,9,10,11,12],"labels":false,"title":null,"tickSize":2}},
"y":{"field":"y","type":"quantitative","scale":{"domain":[0,2],"range":[245,175],"nice":false,"zero":false},"axis":{"orient":"left","offset":-17,"values":[1,2],"labels":false,"title":null}},
"stroke":{"field":"s","type":"nominal","scale":{"domain":[1,2,3,4,5],"range":["#000","#000","#000","#8c8c8c","#000"]},"legend":null}},
"layer":[{"mark":{"type":"line","strokeWidth":0.7}},
{"mark":{"type":"point","size":7,"strokeWidth":0.6,"opacity":1},"encoding":{"fill":{"field":"s","type":"nominal","scale":{"domain":[1,2,3,4,5],"range":["#000","#000","#fff","#8c8c8c","#000"]},"legend":null},"shape":{"field":"s","type":"nominal","scale":{"domain":[1,2,3,4,5],"range":["circle","square","square","circle","triangle-up"]},"legend":null}}}]},
{"data":{"name":"a2"},"encoding":{
"x":{"field":"x","type":"quantitative","scale":{"domain":[-0.45,12.23],"range":[140,252],"nice":false,"zero":false},"axis":{"orient":"bottom","offset":-266,"values":[0,1,2,3,4,5,6,7,8,9,10,11,12],"labels":false,"title":null,"tickSize":2}},
"y":{"field":"y","type":"quantitative","scale":{"domain":[0,2],"range":[245,176],"nice":false,"zero":false},"axis":{"orient":"left","offset":-140,"values":[1,2],"labels":false,"title":null}},
"stroke":{"field":"s","type":"nominal","scale":{"domain":[1,2,3,4,5],"range":["#000","#000","#000","#8c8c8c","#000"]},"legend":null}},
"layer":[{"mark":{"type":"line","strokeWidth":0.7}},
{"mark":{"type":"point","size":7,"strokeWidth":0.6,"opacity":1},"encoding":{"fill":{"field":"s","type":"nominal","scale":{"domain":[1,2,3,4,5],"range":["#000","#000","#fff","#8c8c8c","#000"]},"legend":null},"shape":{"field":"s","type":"nominal","scale":{"domain":[1,2,3,4,5],"range":["circle","square","square","circle","triangle-up"]},"legend":null}}}]},
{"data":{"name":"b1"},"encoding":{
"x":{"field":"x","type":"quantitative","scale":{"domain":[-0.53,12.42],"range":[274,388],"nice":false,"zero":false},"axis":{"orient":"bottom","offset":-267,"values":[0,1,2,3,4,5,6,7,8,9,10,11,12],"labels":false,"title":null,"tickSize":2}},
"y":{"field":"y","type":"quantitative","scale":{"domain":[0,2],"range":[244,174],"nice":false,"zero":false},"axis":{"orient":"left","offset":-274,"values":[1,2],"labels":false,"title":null}},
"stroke":{"field":"s","type":"nominal","scale":{"domain":[1,2,3,4,5],"range":["#000","#000","#000","#8c8c8c","#000"]},"legend":null}},
"layer":[{"mark":{"type":"line","strokeWidth":0.7}},
{"mark":{"type":"point","size":7,"strokeWidth":0.6,"opacity":1},"encoding":{"fill":{"field":"s","type":"nominal","scale":{"domain":[1,2,3,4,5],"range":["#000","#000","#fff","#8c8c8c","#000"]},"legend":null},"shape":{"field":"s","type":"nominal","scale":{"domain":[1,2,3,4,5],"range":["circle","square","square","circle","triangle-up"]},"legend":null}}}]},
{"data":{"name":"b2"},"encoding":{
"x":{"field":"x","type":"quantitative","scale":{"domain":[-0.55,12.48],"range":[398,510],"nice":false,"zero":false},"axis":{"orient":"bottom","offset":-265,"values":[0,1,2,3,4,5,6,7,8,9,10,11,12],"labels":false,"title":null,"tickSize":2}},
"y":{"field":"y","type":"quantitative","scale":{"domain":[0,2],"range":[246,175],"nice":false,"zero":false},"axis":{"orient":"left","offset":-398,"values":[1,2],"labels":false,"title":null}},
"stroke":{"field":"s","type":"nominal","scale":{"domain":[1,2,3,4,5],"range":["#000","#000","#000","#8c8c8c","#000"]},"legend":null}},
"layer":[{"mark":{"type":"line","strokeWidth":0.7}},
{"mark":{"type":"point","size":7,"strokeWidth":0.6,"opacity":1},"encoding":{"fill":{"field":"s","type":"nominal","scale":{"domain":[1,2,3,4,5],"range":["#000","#000","#fff","#8c8c8c","#000"]},"legend":null},"shape":{"field":"s","type":"nominal","scale":{"domain":[1,2,3,4,5],"range":["circle","square","square","circle","triangle-up"]},"legend":null}}}]},
{"data":{"name":"c1"},"encoding":{
"x":{"field":"x","type":"quantitative","scale":{"domain":[-0.37,24.0],"range":[20,133],"nice":false,"zero":false},"axis":{"orient":"bottom","offset":-4,"values":[0,1,2,3,4,5,6,7,8,9,10,11,12,13,14,15,16,17,18,19,20,21,22,23],"labels":false,"title":null,"tickSize":2}},
"y":{"field":"y","type":"quantitative","scale":{"domain":[0,2],"range":[507,435],"nice":false,"zero":false},"axis":{"orient":"left","offset":-20,"values":[1,2],"labels":false,"title":null}},
"stroke":{"field":"s","type":"nominal","scale":{"domain":[1,2,3,4,5],"range":["#000","#000","#000","#8c8c8c","#000"]},"legend":null}},
"layer":[{"mark":{"type":"line","strokeWidth":0.7}},
{"mark":{"type":"point","size":7,"strokeWidth":0.6,"opacity":1},"encoding":{"fill":{"field":"s","type":"nominal","scale":{"domain":[1,2,3,4,5],"range":["#000","#000","#fff","#8c8c8c","#000"]},"legend":null},"shape":{"field":"s","type":"nominal","scale":{"domain":[1,2,3,4,5],"range":["circle","square","square","circle","triangle-up"]},"legend":null}}}]},
{"data":{"name":"c2"},"encoding":{
"x":{"field":"x","type":"quantitative","scale":{"domain":[-0.28,23.8],"range":[137,250],"nice":false,"zero":false},"axis":{"orient":"bottom","offset":-4,"values":[0,1,2,3,4,5,6,7,8,9,10,11,12,13,14,15,16,17,18,19,20,21,22,23],"labels":false,"title":null,"tickSize":2}},
"y":{"field":"y","type":"quantitative","scale":{"domain":[0,2],"range":[507,435],"nice":false,"zero":false},"axis":{"orient":"left","offset":-137,"values":[1,2],"labels":false,"title":null}},
"stroke":{"field":"s","type":"nominal","scale":{"domain":[1,2,3,4,5],"range":["#000","#000","#000","#8c8c8c","#000"]},"legend":null}},
"layer":[{"mark":{"type":"line","strokeWidth":0.7}},
{"mark":{"type":"point","size":7,"strokeWidth":0.6,"opacity":1},"encoding":{"fill":{"field":"s","type":"nominal","scale":{"domain":[1,2,3,4,5],"range":["#000","#000","#fff","#8c8c8c","#000"]},"legend":null},"shape":{"field":"s","type":"nominal","scale":{"domain":[1,2,3,4,5],"range":["circle","square","square","circle","triangle-up"]},"legend":null}}}]},
{"data":{"name":"d1"},"encoding":{
"x":{"field":"x","type":"quantitative","scale":{"domain":[-0.5,23.8],"range":[277,390],"nice":false,"zero":false},"axis":{"orient":"bottom","offset":-4,"values":[0,1,2,3,4,5,6,7,8,9,10,11,12,13,14,15,16,17,18,19,20,21,22,23],"labels":false,"title":null,"tickSize":2}},
"y":{"field":"y","type":"quantitative","scale":{"domain":[0,2],"range":[507,435],"nice":false,"zero":false},"axis":{"orient":"left","offset":-277,"values":[1,2],"labels":false,"title":null}},
"stroke":{"field":"s","type":"nominal","scale":{"domain":[1,2,3,4,5],"range":["#000","#000","#000","#8c8c8c","#000"]},"legend":null}},
"layer":[{"mark":{"type":"line","strokeWidth":0.7}},
{"mark":{"type":"point","size":7,"strokeWidth":0.6,"opacity":1},"encoding":{"fill":{"field":"s","type":"nominal","scale":{"domain":[1,2,3,4,5],"range":["#000","#000","#fff","#8c8c8c","#000"]},"legend":null},"shape":{"field":"s","type":"nominal","scale":{"domain":[1,2,3,4,5],"range":["circle","square","square","circle","triangle-up"]},"legend":null}}}]},
{"data":{"name":"d2"},"encoding":{
"x":{"field":"x","type":"quantitative","scale":{"domain":[-0.45,24.6],"range":[398,510],"nice":false,"zero":false},"axis":{"orient":"bottom","offset":-4,"values":[0,1,2,3,4,5,6,7,8,9,10,11,12,13,14,15,16,17,18,19,20,21,22,23],"labels":false,"title":null,"tickSize":2}},
"y":{"field":"y","type":"quantitative","scale":{"domain":[0,2],"range":[507,435],"nice":false,"zero":false},"axis":{"orient":"left","offset":-398,"values":[1,2],"labels":false,"title":null}},
"stroke":{"field":"s","type":"nominal","scale":{"domain":[1,2,3,4,5],"range":["#000","#000","#000","#8c8c8c","#000"]},"legend":null}},
"layer":[{"mark":{"type":"line","strokeWidth":0.7}},
{"mark":{"type":"point","size":7,"strokeWidth":0.6,"opacity":1},"encoding":{"fill":{"field":"s","type":"nominal","scale":{"domain":[1,2,3,4,5],"range":["#000","#000","#fff","#8c8c8c","#000"]},"legend":null},"shape":{"field":"s","type":"nominal","scale":{"domain":[1,2,3,4,5],"range":["circle","square","square","circle","triangle-up"]},"legend":null}}}]}
]
}
